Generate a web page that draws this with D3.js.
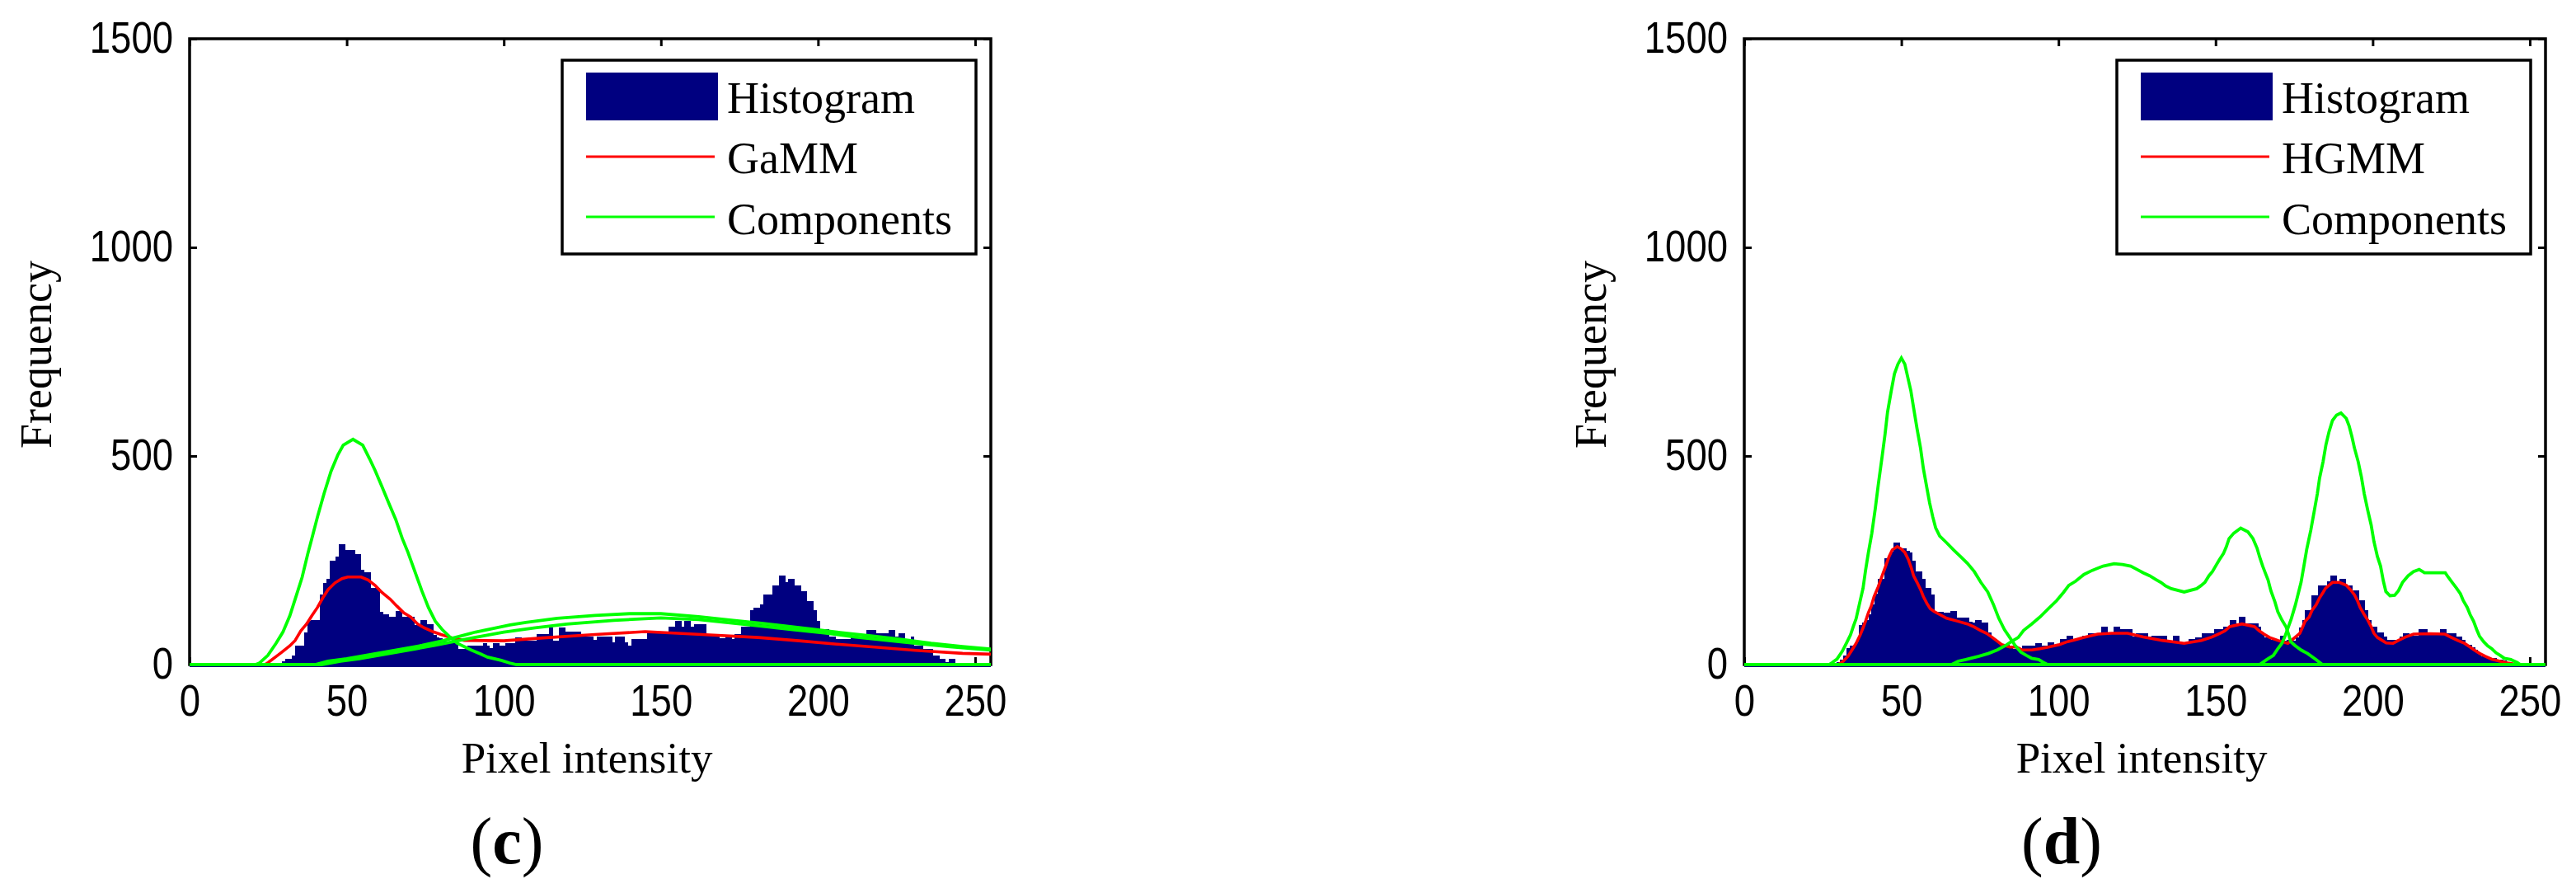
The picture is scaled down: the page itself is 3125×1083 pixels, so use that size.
<!DOCTYPE html>
<html>
<head>
<meta charset="utf-8">
<script src="https://cdn.jsdelivr.net/npm/d3@7"></script>
<style>
  body { margin: 0; background: #fff; }
  svg { display: block; }
  .tick text { font-family: "Liberation Sans", Arial, sans-serif; font-size: 53px; fill: #000; }
  .tick line { stroke: #000; stroke-width: 3; }
  .lbl { font-family: "Liberation Serif", "Times New Roman", serif; fill: #000; }
</style>
</head>
<body>
<div id="fig"></div>
<script>
// ---- data ----
const xTicks = [0, 50, 100, 150, 200, 250];
const yTicks = [0, 500, 1000, 1500];
const legendNames = ["Histogram", "GaMM", "Components"];
const legendNamesD = ["Histogram", "HGMM", "Components"];
const panelTags = ["c", "d"];

// histogram counts, one per intensity 0..255
const histC = [
  0,0,0,0,0,0,0,0,0,0, 0,0,0,0,0,0,0,0,0,0, 0,0,0,0,0,0,0,0,0,0,
  8,13,13,22,45,45,45,77,104,107,
  107,107,167,196,205,250,250,259,288,288,
  274,274,274,265,265,228,221,221,183,183,
  183,127,121,121,114,114,129,129,114,114,
  114,114,94,94,106,106,97,97,71,66,
  64,62,51,51,51,51,38,38,38,45,
  45,45,45,45,51,45,40,51,51,45,
  45,51,51,51,65,65,58,58,58,58,
  58,73,73,73,73,88,58,58,88,88,
  80,80,80,80,80,67,67,67,67,60,
  67,67,67,67,67,54,68,68,68,54,
  46,61,61,61,61,61,78,78,78,78,
  78,78,78,91,91,105,105,91,105,105,
  91,97,97,97,97,74,74,74,74,64,
  64,68,68,61,74,74,91,91,91,130,
  137,137,144,167,167,167,190,190,213,213,
  198,205,205,190,190,175,175,152,152,130,
  105,84,84,84,68,68,61,61,61,61,
  61,68,68,68,68,68,83,83,83,76,
  76,76,76,83,83,68,76,76,61,61,
  68,45,45,45,38,38,38,22,22,13,
  13,5,13,13,3,2, 0,0,0,0,0,0,0,0,0,0
];

const histD = [
  0,0,0,0,0,0,0,0,0,0, 0,0,0,0,0,0,0,0,0,0, 0,0,0,0,0,0,0,0,0,0,
  6,12,22,40,46,46,55,95,100,107,
  120,145,170,206,206,254,254,270,292,292,
  279,279,272,269,250,223,223,205,184,184,
  167,127,127,127,125,125,129,129,113,113,
  113,113,102,100,107,107,100,100,77,64,
  58,54,48,48,48,40,38,38,38,45,
  45,45,45,52,52,45,45,53,53,45,
  45,61,61,69,69,61,61,61,69,69,
  76,76,76,76,91,91,75,75,91,91,
  84,84,84,84,68,76,76,76,76,68,
  69,69,69,69,69,60,58,69,69,54,
  54,54,61,61,66,66,76,76,76,76,
  84,84,84,91,91,106,106,98,114,114,
  99,99,99,99,90,75,65,65,60,60,
  60,69,58,60,60,58,66,88,107,130,
  130,166,166,190,190,190,200,214,214,197,
  206,206,190,190,177,177,154,154,130,107,
  91,91,78,78,68,60,60,60,60,68,
  76,76,69,69,69,84,84,84,76,76,
  76,76,84,84,76,76,76,68,68,60,
  48,48,42,35,27,20,20,15,15,15,
  12,12,10,5,3,0, 0,0,0,0,0,0,0,0,0,0
];

// fitted mixture (red), [intensity, frequency]
const mixC = [
  [24,0],[25,5],[28,22],[29.7,32],[31.9,45],[33.6,58],[35.4,81],[37.2,97],[38.9,117],
  [40.7,137],[42.4,160],[44.1,180],[46.3,196],[48.5,206],[50.3,210],[54.6,210],[56.8,203],
  [59,190],[61.2,173],[63.8,157],[66,140],[68.2,124],[70.4,114],[72.6,97],[74.7,88],
  [77.4,79],[80,72],[83.5,64],[87.4,58],[100,57],[112.5,64],[129,72],[145,79],[163,72],
  [181,65],[194,57],[206,49],[218,42],[231,34],[246,27],[255,25]
];
const mixD = [
  [30,0],[31.5,8],[33,20],[34.3,35],[35.6,51],[36.9,71],[37.8,88],[38.6,104],[39.5,124],
  [40.4,140],[41.3,163],[42.6,186],[43.9,213],[45,236],[46.1,259],[47.1,275],[48.7,283],
  [50,277],[51.1,269],[52.2,252],[53.1,233],[53.9,213],[55,197],[56.1,180],[57,163],
  [58.1,147],[59.2,134],[60.5,127],[62.2,120],[64.4,111],[67.9,104],[71,97.5],[73.2,90],
  [75.3,81],[77.1,75],[78.8,66],[80.2,58],[81.9,48],[84.5,42],[86.7,42],[88.5,35],
  [91.5,35],[94.1,38],[96.8,42],[100.3,48],[102.9,55],[105.5,60],[108.1,65],[112.5,73],
  [117,75],[122,75],[127,66],[133,58],[140,51],[145.5,58],[148.8,66],[151.4,75],[153,81],
  [154.5,91],[158.4,97.5],[162.4,91],[163.9,81],[165.4,73],[167.2,65],[169.8,58],[173,51],
  [175.4,66],[176.8,75],[177.6,88],[178.5,104],[179.8,114],[180.7,130],[182,143],[183.1,160],
  [184.2,173],[185,183],[186.1,190],[187.2,197],[189.4,197],[191.6,190],[192.9,180],
  [194.2,167],[195.1,154],[196,137],[197.3,120],[198.4,107],[199.5,91],[200.4,75],
  [201.5,65],[203,58],[204.3,52],[206.5,51],[208.2,58],[210.4,66],[213,73],[218,74],
  [223,73],[224.8,66],[227,58],[229.2,51],[231,42],[232.3,35],[234,27],[235.8,20],
  [237.9,13],[240.6,8],[243,4],[246,0]
];

// mixture components (green)
const compC1 = [
  [0,0],[21,0],[22.3,4],[24.9,22],[27.5,51],[29.7,78],[31.9,117],[33.6,157],[35.8,209],
  [37.6,265],[38.9,302],[40.7,354],[42.8,410],[45,463],[47.2,503],[48.9,526],[52,540],
  [55.1,526],[57.3,493],[59,466],[61.2,427],[63.4,387],[65.6,348],[67.7,302],[69.5,269],
  [71.7,223],[73.9,177],[76,137],[78.2,104],[80.4,84],[82.6,68],[85.2,51],[89.6,35],
  [92.7,25],[94.8,18],[99.2,10],[101.8,4],[104,0],[255,0]
];
const compC2 = [
  [0,0],[40,0],[44,8],[50,14],[56,22],[62,30],[68,38],[74,46],[80,56],[87,70],[91,78],
  [97,87],[102,95],[107,101],[117,111],[129,118],[140,122],[150,122],[162,115],[173,106],
  [182,99],[190,92],[199,84],[207,77],[218,68],[227,60],[236,51],[246,43],[255,37]
];
const compC3 = [
  [0,0],[42,0],[48,8],[54,14],[60,22],[66,30],[72,38],[78,46],[84,55],[90,64],[95,71],
  [100,78],[110,88],[120,97],[135,106],[150,112],[162,108],[172,100],[182,92],[192,84],
  [202,76],[212,66],[222,58],[232,50],[242,43],[250,38],[255,35]
];
const compD1 = [
  [0,0],[27,0],[28,5],[29.5,13],[31.2,32],[32.5,51],[33.8,71],[34.7,91],[35.6,110],
  [36.5,140],[37.8,183],[38.6,226],[39.5,268],[40.6,315],[41.7,374],[42.7,434],[43.9,500],
  [44.8,552],[45.6,605],[46.8,657],[47.8,697],[48.9,720],[50,735],[51.1,720],[52,690],
  [53,657],[53.9,615],[55,565],[56.1,519],[57,470],[58.1,424],[59,387],[60,354],[60.9,328],
  [62.2,308],[64.4,292],[66.6,275],[68.8,259],[71,243],[73.2,223],[75.3,197],[77.5,174],
  [79.3,144],[81,111],[82.8,84],[84.5,65],[86.3,45],[88,30],[89.8,22],[91.5,15],[93.7,12],
  [95,6],[96.5,0],[255,0]
];
const compD2 = [
  [0,0],[66,0],[68,8],[70.5,12],[74.7,20],[77.8,27],[80.5,35],[83,45],[85,55],[87.2,65],
  [88.9,82],[91.5,97.5],[94.1,114],[96.8,134],[99.4,153],[101.6,173],[103.3,190],
  [105.5,200],[108.1,216],[110.8,226],[114.2,236],[117.7,242],[120.4,240],[123,236],
  [125,228],[127,220],[129,213],[131,204],[132.6,197],[134,189],[135.9,182],[140,174],
  [144,182],[145.3,189],[146.6,197],[147.9,213],[149,223],[150,236],[151.1,250],[152.5,266],
  [153.4,282],[154.3,302],[155.8,315],[158,327],[160.3,318],[161.9,302],[163.2,279],
  [164.1,256],[165,236],[165.8,220],[166.7,203],[167.6,177],[168.9,150],[169.8,127],
  [171.1,107],[172.4,91],[173.3,71],[173.9,55],[175.4,45],[177.2,35],[179.4,26],[182,12],
  [184,0],[255,0]
];
const compD3 = [
  [0,0],[164,0],[166.3,12],[168.4,22],[169.8,38],[171.1,51],[172.1,68],[174.1,110],
  [175.4,143],[176.3,170],[177.2,197],[178.1,236],[179,276],[180.3,322],[181.4,368],
  [182.4,410],[183.1,447],[184.2,486],[185.1,526],[186.1,558],[187.2,585],[188.5,598],
  [189.9,603],[191.6,590],[192.5,572],[193.4,546],[194.2,519],[195.4,486],[196.4,450],
  [197.3,410],[198.4,371],[199.5,335],[200.4,295],[201.5,259],[202.5,236],[203.4,200],
  [204.2,175],[205.5,165],[207,166],[208.2,177],[209.5,197],[211.3,213],[213,223],
  [214.8,228],[216.5,220],[223.1,220],[224,210],[225.3,197],[226.6,184],[227.9,170],
  [228.8,154],[230.1,137],[231,120],[232.1,104],[233.1,84],[234,68],[235.3,55],[236.6,45],
  [237.9,38],[239.3,28],[240.6,22],[241.9,15],[244,12],[246,5],[247,0],[255,0]
];

// ---- layout ----
W = 3125;
H = 1083;
plotW = 972;
plotH = 759;
navy = "#000080";
red = "#ff0000";
green = "#00ff00";

const svg = d3.select("#fig")
  .append("svg")
  .attr("width", W)
  .attr("height", H);

// squeeze tick digits to the narrow look of the original
function narrowDigits(sel) {
  sel.selectAll(".tick text")
    .attr("font-family", null)
    .attr("font-size", null)
    .attr("lengthAdjust", "spacingAndGlyphs")
    .attr("textLength", function() { return this.textContent.length * 25.3; });
}

function panel(left, hist, mix, comps, names, tag, idx) {
  const g = svg.append("g")
      .attr("transform", `translate(${left}, 47)`);

  const x = d3.scaleLinear().domain([0, 255]).range([0, plotW]);
  const y = d3.scaleLinear().domain([0, 1500]).range([plotH, 0]);

  // frame
  g.append("rect")
    .attr("width", plotW)
    .attr("height", plotH)
    .attr("fill", "none")
    .attr("stroke", "#000")
    .attr("stroke-width", 3.5);

  // inward ticks on all four sides
  g.append("g")
    .attr("transform", `translate(0, ${plotH})`)
    .call(d3.axisBottom(x).tickValues(xTicks).tickFormat(d3.format("d")).tickSize(-9).tickPadding(24).tickSizeOuter(0))
    .call(a => a.select(".domain").remove())
    .call(narrowDigits);
  g.append("g")
    .call(d3.axisTop(x).tickValues(xTicks).tickSize(-9).tickFormat("").tickSizeOuter(0))
    .call(a => a.select(".domain").remove());
  g.append("g")
    .call(d3.axisLeft(y).tickValues(yTicks).tickFormat(d3.format("d")).tickSize(-9).tickPadding(20).tickSizeOuter(0))
    .call(a => a.select(".domain").remove())
    .call(narrowDigits);
  g.append("g")
    .attr("transform", `translate(${plotW}, 0)`)
    .call(d3.axisRight(y).tickValues(yTicks).tickSize(-9).tickFormat("").tickSizeOuter(0))
    .call(a => a.select(".domain").remove());

  const clipId = "clip" + idx;
  g.append("clipPath").attr("id", clipId)
    .append("rect").attr("x", 0).attr("y", -10).attr("width", plotW).attr("height", plotH + 14);

  const data = g.append("g").attr("clip-path", `url(#${clipId})`);

  // histogram bars
  const bw = x(1) - x(0);
  data.append("g")
    .selectAll("rect")
    .data(hist)
    .join("rect")
      .attr("x", (d, i) => x(i - 0.5))
      .attr("width", bw + 0.4)
      .attr("y", d => y(d))
      .attr("height", d => y(0) - y(d) + 3)
      .attr("fill", navy)
      .attr("shape-rendering", "crispEdges");
  data.append("rect")
    .attr("x", 0).attr("y", plotH)
    .attr("width", plotW).attr("height", 3)
    .attr("fill", navy);

  const line = d3.line().x(d => x(d[0])).y(d => y(d[1]));

  data.append("path")
    .datum(mix)
    .attr("d", line)
    .attr("fill", "none")
    .attr("stroke", red)
    .attr("stroke-width", 3.6);

  data.selectAll(".comp")
    .data(comps)
    .join("path")
      .attr("class", "comp")
      .attr("d", line)
      .attr("fill", "none")
      .attr("stroke", green)
      .attr("stroke-width", 3.8);

  // legend
  const lg = g.append("g").attr("transform", "translate(452, 26)");
  lg.append("rect")
    .attr("width", 502).attr("height", 235)
    .attr("fill", "#fff").attr("stroke", "#000").attr("stroke-width", 3.5);
  lg.append("rect")
    .attr("x", 29).attr("y", 15).attr("width", 160).attr("height", 58)
    .attr("fill", navy);
  lg.append("line")
    .attr("x1", 29).attr("x2", 185).attr("y1", 117).attr("y2", 117)
    .attr("stroke", red).attr("stroke-width", 3.2);
  lg.append("line")
    .attr("x1", 29).attr("x2", 185).attr("y1", 190).attr("y2", 190)
    .attr("stroke", green).attr("stroke-width", 3.2);
  lg.selectAll("text")
    .data(names)
    .join("text")
      .attr("class", "lbl")
      .attr("x", 200)
      .attr("y", (d, i) => 64 + i * 73.3)
      .attr("font-size", 54)
      .text(d => d);

  // axis labels
  g.append("text")
    .attr("class", "lbl")
    .attr("x", 482).attr("y", 890)
    .attr("text-anchor", "middle")
    .attr("font-size", 53)
    .text("Pixel intensity");
  g.append("text")
    .attr("class", "lbl")
    .attr("transform", "translate(-168, 383) rotate(-90)")
    .attr("text-anchor", "middle")
    .attr("font-size", 54)
    .text("Frequency");

  // panel tag like "(c)"
  const t = g.append("text")
    .attr("class", "lbl")
    .attr("x", 385).attr("y", 1000)
    .attr("text-anchor", "middle")
    .attr("font-size", 80);
  t.append("tspan").text("(");
  t.append("tspan").attr("font-weight", "bold").text(tag);
  t.append("tspan").text(")");
}

panel(230, histC, mixC, [compC1, compC2, compC3], legendNames, panelTags[0], 0);
panel(2116, histD, mixD, [compD1, compD2, compD3], legendNamesD, panelTags[1], 1);
</script>
</body>
</html>
